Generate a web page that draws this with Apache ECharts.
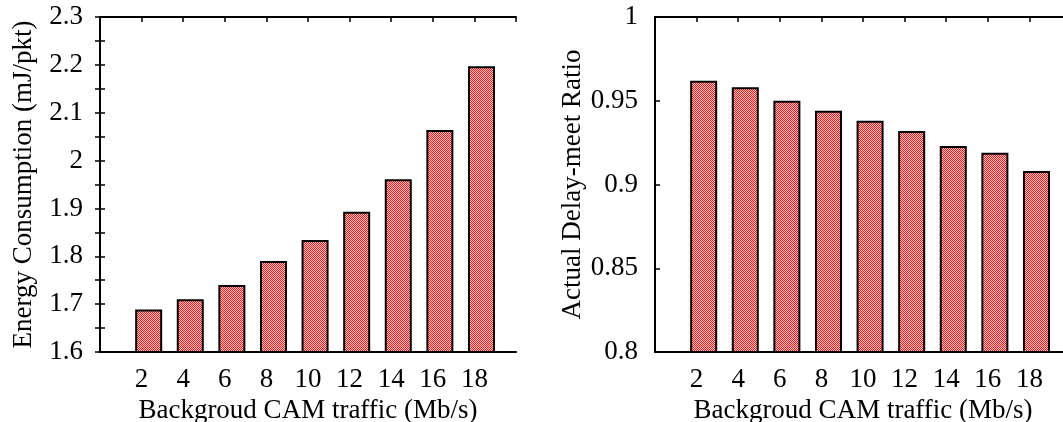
<!DOCTYPE html>
<html>
<head>
<meta charset="utf-8">
<script src="https://cdn.jsdelivr.net/npm/echarts@6/dist/echarts.min.js"></script>
<style>
	html, body { margin: 0; padding: 0; background: #fff; overflow: hidden; }
	#chart { width: 1063px; height: 422px; }
</style>
</head>
<body>
<div id="chart"></div>
<script>
var trafficRates = [2, 4, 6, 8, 10, 12, 14, 16, 18];
var energyValues = [1.689, 1.71, 1.74, 1.79, 1.834, 1.893, 1.961, 2.064, 2.197];
var delayMeetRatios = [0.962, 0.958, 0.950, 0.944, 0.938, 0.932, 0.923, 0.919, 0.908];
var energyTicks = { min: 1.6, max: 2.3, interval: 0.1 };
var ratioTicks = { min: 0.8, max: 1, interval: 0.05 };
var rateTicks = { min: 0, max: 20, interval: 2 };

var FONT = 'Liberation Serif';
var lineStyle = { color: '#000', width: 2 };
var tickStyle = { color: '#000', width: 1.5 };
var textStyle = { color: '#000', fontFamily: FONT, fontSize: 27 };

// red / white checker fill like the gnuplot pattern, built pixel by pixel
function checkerPattern () {
	var size = 4;
	var c = document.createElement('canvas');
	c.width = size;
	c.height = size;
	var ctx = c.getContext('2d');
	var img = ctx.createImageData(size, size);
	for (var y = 0; y < size; y++) {
		for (var x = 0; x < size; x++) {
			var p = (y * size + x) * 4;
			var red = (x + y) % 2 === 0;
			img.data[p] = 255;
			img.data[p + 1] = red ? 20 : 205;
			img.data[p + 2] = red ? 20 : 205;
			img.data[p + 3] = 255;
		}
	}
	ctx.putImageData(img, 0, 0);
	return { image: c, repeat: 'repeat' };
}

function pairs (xs, ys) {
	return xs.map(function (x, i) { return [x, ys[i]]; });
}

function xAxes (grid) {
	return [
		{
			gridIndex: grid, type: 'value', position: 'bottom', z: 5,
			min: rateTicks.min, max: rateTicks.max, interval: rateTicks.interval,
			name: 'Backgroud CAM traffic (Mb/s)',
			nameLocation: 'middle', nameGap: 33,
			nameTextStyle: textStyle,
			axisLine: { show: true, lineStyle: lineStyle },
			axisTick: { show: false },
			splitLine: { show: false },
			axisLabel: Object.assign({ show: true, margin: 14, showMinLabel: false, showMaxLabel: false }, textStyle)
		},
		{
			gridIndex: grid, type: 'value', position: 'top', z: 5,
			min: rateTicks.min, max: rateTicks.max, interval: rateTicks.interval,
			axisLine: { show: true, lineStyle: lineStyle },
			axisTick: { show: true, inside: true, length: 5, lineStyle: tickStyle },
			splitLine: { show: false },
			axisLabel: { show: false }
		},
		{
			// bars sit a little right of the tick marks
			gridIndex: grid, type: 'value', show: false,
			min: rateTicks.min - 0.34, max: rateTicks.max - 0.34
		}
	];
}

function yAxes (grid, yName, yTicks, minor, nameGap, withRight) {
	var axes = [
		{
			gridIndex: grid, type: 'value', position: 'left', z: 5,
			min: yTicks.min, max: yTicks.max, interval: yTicks.interval,
			name: yName,
			nameLocation: 'middle', nameGap: nameGap,
			nameTextStyle: textStyle,
			axisLine: { show: true, lineStyle: lineStyle },
			axisTick: { show: true, inside: true, length: 5, lineStyle: tickStyle },
			minorTick: { show: minor, splitNumber: 2, length: 5, lineStyle: tickStyle },
			splitLine: { show: false },
			axisLabel: Object.assign({ show: true, margin: 17 }, textStyle)
		}
	];
	if (withRight) {
		axes.push({
			gridIndex: grid, type: 'value', position: 'right', z: 5,
			min: yTicks.min, max: yTicks.max, interval: yTicks.interval,
			axisLine: { show: true, lineStyle: lineStyle },
			axisTick: { show: true, inside: true, length: 5, lineStyle: tickStyle },
			minorTick: { show: minor, splitNumber: 2, length: 5, lineStyle: tickStyle },
			splitLine: { show: false },
			axisLabel: { show: false }
		});
	}
	return axes;
}

function barSeries (xIndex, yIndex, values) {
	return {
		type: 'bar',
		xAxisIndex: xIndex,
		yAxisIndex: yIndex,
		clip: true,
		barWidth: 27,
		itemStyle: {
			color: checkerPattern(),
			borderColor: '#000',
			borderWidth: 2
		},
		data: values
	};
}

function drawCharts () {
	var chart = echarts.init(document.getElementById('chart'));
	var option = {
		animation: false,
		grid: [
			{ left: 100, top: 17, width: 416, height: 335, outerBoundsMode: 'none', containLabel: false },
			// right panel runs past the picture edge, as in the original
			{ left: 655, top: 17, width: 416, height: 335, outerBoundsMode: 'none', containLabel: false }
		],
		xAxis: xAxes(0).concat(xAxes(1)),
		yAxis: yAxes(0, 'Energy Consumption (mJ/pkt)', energyTicks, true, 63, true)
			.concat(yAxes(1, 'Actual Delay-meet Ratio', ratioTicks, false, 65, false)),
		series: [
			barSeries(2, 0, pairs(trafficRates, energyValues)),
			barSeries(5, 2, pairs(trafficRates, delayMeetRatios))
		]
	};
	chart.setOption(option);
}

drawCharts();
</script>
</body>
</html>
